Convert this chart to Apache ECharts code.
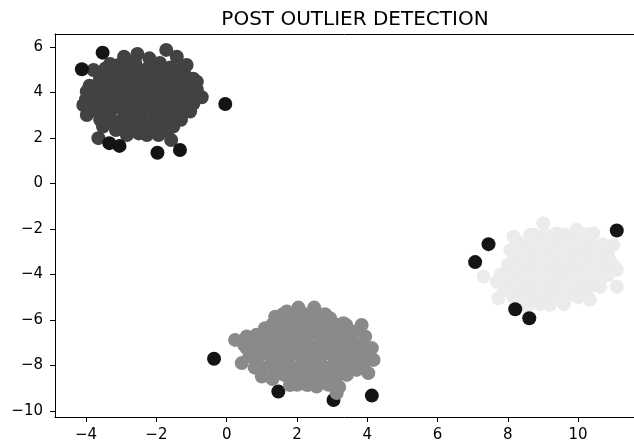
<!DOCTYPE html>
<html>
<head>
<meta charset="utf-8">
<script src="https://cdn.jsdelivr.net/npm/echarts@6/dist/echarts.min.js"></script>
<style>html,body{margin:0;padding:0;background:#fff}#chart{width:634px;height:448px}</style>
</head>
<body>
<div id="chart"></div>
<script>
const titleText = 'POST OUTLIER DETECTION';
const xTicks = [-4, -2, 0, 2, 4, 6, 8, 10];
const yTicks = [-10, -8, -6, -4, -2, 0, 2, 4, 6];

// cluster 1 (dark grey, upper left)
const clusterDark = [
  [-1.72,5.87],[-2.54,5.69],[-2.92,5.57],[-3.32,5.25],[-3.79,4.99],[-3.98,4.04],[-4.08,3.45],[-3.98,3.01],
  [-3.65,1.99],[-3.52,2.5],[-2.84,2.13],[-2.27,2.13],[-1.94,2.13],[-1.52,2.5],[-1.58,1.91],[-1.04,3.16],
  [-0.71,3.79],[-0.85,4.47],[-1.14,5.21],[-1.42,5.57],
  [-2.2,5.5],[-1.9,5.3],[-3.6,4.6],[-3.9,4.3],[-3.75,3.2],[-3.4,2.7],[-3.1,2.4],[-2.5,2.2],[-1.7,2.3],
  [-1.3,2.8],[-0.95,3.5],[-1.0,4.1],[-1.2,4.8],[-1.6,5.1],[-2.6,5.3],[-3.1,5.2],
  [-3.45,5.05],[-3.15,5.02],[-2.85,5.07],[-2.55,5.04],[-2.25,5.06],[-1.95,5.03],[-1.65,5.05],[-1.35,5.0],
  [-3.6,4.6],[-3.3,4.58],[-3.0,4.62],[-2.7,4.6],[-2.4,4.57],[-2.1,4.61],[-1.8,4.6],[-1.5,4.58],[-1.2,4.62],[-0.95,4.6],
  [-3.85,4.15],[-3.55,4.13],[-3.25,4.17],[-2.95,4.15],[-2.65,4.12],[-2.35,4.16],[-2.05,4.15],[-1.75,4.14],[-1.45,4.17],[-1.15,4.15],[-0.85,4.13],
  [-4.0,3.7],[-3.7,3.68],[-3.4,3.72],[-3.1,3.7],[-2.8,3.69],[-2.5,3.71],[-2.2,3.7],[-1.9,3.68],[-1.6,3.72],[-1.3,3.7],[-1.0,3.69],
  [-3.85,3.25],[-3.55,3.23],[-3.25,3.27],[-2.95,3.25],[-2.65,3.24],[-2.35,3.26],[-2.05,3.25],[-1.75,3.23],[-1.45,3.27],[-1.15,3.25],
  [-3.6,2.8],[-3.3,2.82],[-3.0,2.78],[-2.7,2.8],[-2.4,2.81],[-2.1,2.79],[-1.8,2.8],[-1.5,2.82],
  [-3.15,2.35],[-2.85,2.36],[-2.55,2.34],[-2.25,2.35],[-1.95,2.37]
];

// cluster 2 (mid grey, bottom middle)
const clusterMid = [
  [2.04,-5.46],[2.49,-5.46],[1.71,-5.63],[1.38,-5.86],[1.09,-6.37],[0.57,-6.73],[0.24,-6.88],[0.43,-7.9],
  [1.0,-8.49],[1.8,-8.86],[2.56,-8.93],[3.13,-9.22],[3.42,-8.42],[4.03,-8.34],[4.18,-7.76],[4.13,-7.24],
  [3.94,-6.73],[3.84,-6.22],[3.6,-6.51],[2.94,-5.93],[3.32,-6.15],
  [0.55,-7.2],[0.7,-7.6],[0.8,-8.1],[1.3,-8.6],[1.5,-8.3],[2.2,-8.8],[2.9,-8.7],[3.2,-8.95],[3.7,-8.2],
  [3.9,-7.9],[3.8,-7.4],[3.6,-7.0],[3.5,-6.6],[2.7,-5.8],[2.2,-5.8],[1.9,-6.0],[1.4,-6.3],[0.9,-6.7],
  [1.6,-5.75],[1.9,-5.77],[2.2,-5.74],[2.5,-5.76],[2.8,-5.75],
  [1.3,-6.2],[1.6,-6.22],[1.9,-6.18],[2.2,-6.2],[2.5,-6.21],[2.8,-6.19],[3.1,-6.2],[3.4,-6.22],
  [0.85,-6.65],[1.15,-6.63],[1.45,-6.67],[1.75,-6.65],[2.05,-6.64],[2.35,-6.66],[2.65,-6.65],[2.95,-6.63],[3.25,-6.67],[3.55,-6.65],
  [0.5,-7.1],[0.8,-7.12],[1.1,-7.08],[1.4,-7.1],[1.7,-7.11],[2.0,-7.09],[2.3,-7.1],[2.6,-7.12],[2.9,-7.08],[3.2,-7.1],[3.5,-7.11],[3.8,-7.09],
  [0.65,-7.55],[0.95,-7.53],[1.25,-7.57],[1.55,-7.55],[1.85,-7.54],[2.15,-7.56],[2.45,-7.55],[2.75,-7.53],[3.05,-7.57],[3.35,-7.55],[3.65,-7.54],[3.95,-7.56],
  [0.9,-8.0],[1.2,-8.02],[1.5,-7.98],[1.8,-8.0],[2.1,-8.01],[2.4,-7.99],[2.7,-8.0],[3.0,-8.02],[3.3,-7.98],[3.6,-8.0],[3.9,-8.01],
  [1.35,-8.45],[1.65,-8.43],[1.95,-8.47],[2.25,-8.45],[2.55,-8.44],[2.85,-8.46],[3.15,-8.45],
  [2.0,-8.85],[2.3,-8.86],[2.6,-8.84],[2.9,-8.85]
];

// cluster 3 (light grey, right)
const clusterLight = [
  [9.01,-1.75],[8.63,-2.26],[8.16,-2.34],[9.96,-2.04],[10.43,-2.19],[11.0,-2.7],[7.31,-4.1],[7.69,-4.32],
  [7.73,-5.05],[8.54,-5.41],[9.2,-5.34],[10.34,-5.12],[10.63,-4.54],[11.1,-4.54],[11.1,-3.8],[8.02,-3.66],[8.07,-2.92],
  [9.4,-2.2],[9.7,-2.3],[10.8,-3.0],[10.9,-3.4],[10.7,-4.1],[10.0,-5.0],[9.6,-5.3],[8.9,-5.3],[8.2,-5.1],
  [7.9,-4.7],[7.8,-4.0],[8.3,-2.6],[8.9,-2.4],[10.2,-2.5],
  [8.75,-2.25],[9.05,-2.27],[9.35,-2.23],[9.65,-2.25],[9.95,-2.26],[10.25,-2.24],
  [8.3,-2.7],[8.6,-2.72],[8.9,-2.68],[9.2,-2.7],[9.5,-2.71],[9.8,-2.69],[10.1,-2.7],[10.4,-2.72],[10.7,-2.68],
  [8.15,-3.15],[8.45,-3.13],[8.75,-3.17],[9.05,-3.15],[9.35,-3.14],[9.65,-3.16],[9.95,-3.15],[10.25,-3.13],[10.55,-3.17],[10.85,-3.15],
  [8.0,-3.6],[8.3,-3.62],[8.6,-3.58],[8.9,-3.6],[9.2,-3.61],[9.5,-3.59],[9.8,-3.6],[10.1,-3.62],[10.4,-3.58],[10.7,-3.6],[11.0,-3.61],
  [7.85,-4.05],[8.15,-4.03],[8.45,-4.07],[8.75,-4.05],[9.05,-4.04],[9.35,-4.06],[9.65,-4.05],[9.95,-4.03],[10.25,-4.07],[10.55,-4.05],[10.85,-4.04],
  [8.0,-4.5],[8.3,-4.52],[8.6,-4.48],[8.9,-4.5],[9.2,-4.51],[9.5,-4.49],[9.8,-4.5],[10.1,-4.52],[10.4,-4.48],
  [8.15,-4.95],[8.45,-4.93],[8.75,-4.97],[9.05,-4.95],[9.35,-4.94],[9.65,-4.96],[9.95,-4.95],[10.25,-4.93]
];

// detected outliers (black)
const outliers = [
  [-3.53,5.75],[-4.12,5.02],[-3.34,1.77],[-3.05,1.65],[-1.97,1.35],[-1.33,1.47],[-0.04,3.49],
  [-0.36,-7.71],[1.47,-9.15],[3.04,-9.52],[4.13,-9.33],
  [7.45,-2.67],[7.07,-3.46],[8.21,-5.53],[8.61,-5.93],[11.1,-2.07]
];

const fmt = v => String(v).replace('-', '\u2212');
const font = 'DejaVu Sans';
const chart = echarts.init(document.getElementById('chart'), null, {renderer: 'canvas'});
const mk = (data, color) => ({type: 'scatter', data, symbolSize: 14, itemStyle: {color, opacity: 1}, silent: true, animation: false});
chart.setOption({
  animation: false,
  backgroundColor: '#fff',
  title: {text: titleText, left: 350, top: 5, textAlign: 'center',
    textStyle: {fontFamily: font, fontSize: 20, fontWeight: 'normal', color: '#000'}},
  grid: {left: 55, right: 0, top: 34, bottom: 31, show: false},
  xAxis: [{type: 'value', min: -4.885, max: 11.59, splitLine: {show: false},
    axisLine: {show: true, onZero: false, lineStyle: {color: '#000'}},
    axisTick: {show: true, length: 5, lineStyle: {color: '#000'}, customValues: xTicks},
    axisLabel: {fontFamily: font, fontSize: 15, color: '#000', margin: 11, customValues: xTicks, formatter: fmt}},
    {type: 'value', position: 'top', min: -4.885, max: 11.59, splitLine: {show: false},
    axisLine: {show: true, onZero: false, lineStyle: {color: '#000'}},
    axisTick: {show: false}, axisLabel: {show: false}}],
  yAxis: {type: 'value', min: -10.27, max: 6.57, splitLine: {show: false},
    axisLine: {show: true, onZero: false, lineStyle: {color: '#000'}},
    axisTick: {show: true, length: 5, lineStyle: {color: '#000'}, customValues: yTicks},
    axisLabel: {fontFamily: font, fontSize: 15, color: '#000', margin: 12, customValues: yTicks, formatter: fmt}},
  series: [
    mk(clusterDark, '#424242'),
    mk(clusterLight, '#ebebeb'),
    mk(outliers, '#141414'),
    mk(clusterMid, '#8a8a8a')
  ]
});
</script>
</body>
</html>
